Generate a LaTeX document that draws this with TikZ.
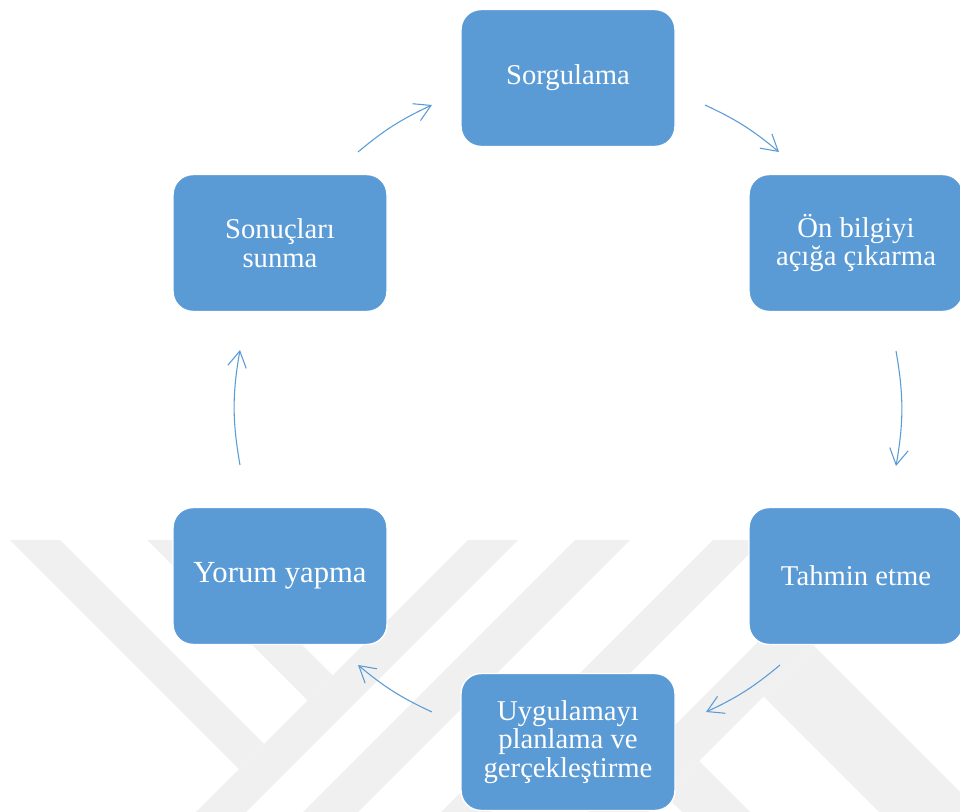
\documentclass[tikz,border=0pt]{standalone}
\usepackage{fontspec}
\setmainfont{Liberation Serif}
\usetikzlibrary{arrows.meta}
\definecolor{boxblue}{HTML}{5B9BD5}
\definecolor{wm}{HTML}{F0F0F0}
\begin{document}
\begin{tikzpicture}[x=0.75pt,y=-0.75pt,
  box/.style={draw=white, line width=1.1pt, fill=boxblue, rounded corners=15pt,
    minimum width=160.5pt, minimum height=102.75pt, align=center, text=white,
    font=\fontsize{21.5}{21.5}\selectfont, inner sep=0pt},
  bigtext/.style={font=\fontsize{23}{23}\selectfont},
  conn/.style={draw=boxblue, line width=0.8pt,
    -{Straight Barb[length=12pt,width=14pt,line width=0.8pt]}},
  wmark/.style={fill=wm, draw=none}]
\fill[white] (0,0) rectangle (960,812);
\useasboundingbox (0,0) rectangle (960,812);
% faint watermark
\fill[wmark] (468,540) -- (518,540) -- (246,812) -- (196,812) -- cycle;
\fill[wmark] (575,540) -- (630,540) -- (358,812) -- (303,812) -- cycle;
\fill[wmark] (713,540) -- (763,540) -- (491,812) -- (441,812) -- cycle;
\fill[wmark] (10,540) -- (60,540) -- (264,744) -- (239,769) -- cycle;
\fill[wmark] (147,540) -- (197,540) -- (332.5,675.5) -- (307.5,700.5) -- cycle;
\fill[wmark] (860,540) -- (920,540) -- (648,812) -- (588,812) -- cycle;
\fill[wmark] (763.5,696.5) -- (814,646) -- (980,812) -- (879,812) -- cycle;
\fill[wmark] (665,795) -- (699,761) -- (750,812) -- (682,812) -- cycle;
% boxes
\node[box] (sorg) at (568,78) {Sorgulama};
\node[box] (on) at (856,243) {Ön bilgiyi\\açığa çıkarma};
\node[box] (tahmin) at (856,576) {Tahmin etme};
\node[box] (uyg) at (568,742) {Uygulamayı\\planlama ve\\gerçekleştirme};
\node[box, bigtext] (yorum) at (280,576) {Yorum yapma};
\node[box] (sonuc) at (280,243) {Sonuçları\\sunma};
% connector ends
\coordinate (a1) at (705,105); \coordinate (b1) at (779,152);
\coordinate (a2) at (896,351); \coordinate (b2) at (896,466);
\coordinate (a3) at (780,665); \coordinate (b3) at (706,712);
\coordinate (a4) at (432,712); \coordinate (b4) at (358,665);
\coordinate (a5) at (240,465); \coordinate (b5) at (240,350);
\coordinate (a6) at (358,152); \coordinate (b6) at (432,105);
\draw[conn] (a1) to[bend left=7.5] (b1);
\draw[conn] (a2) to[bend left=10] (b2);
\draw[conn] (a3) to[bend left=7.5] (b3);
\draw[conn] (a4) to[bend left=7.5] (b4);
\draw[conn] (a5) to[bend left=10] (b5);
\draw[conn] (a6) to[bend left=7.5] (b6);
\end{tikzpicture}
\end{document}
